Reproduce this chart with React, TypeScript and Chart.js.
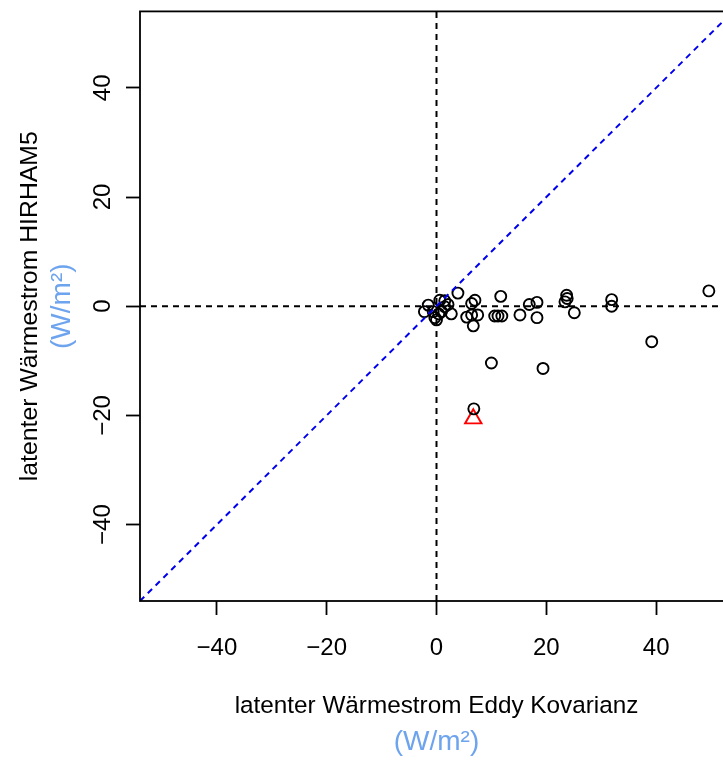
import React, { useEffect, useRef } from 'react';
import { Chart, registerables } from 'chart.js';

Chart.register(...registerables);

// Latent heat flux: Eddy covariance (x) vs HIRHAM5 (y), W/m^2
const eddyX = [
  -1.5, -2.2, -0.6, -0.3, 0.0, 0.6, 1.5, 1.5, 0.9, 2.7, 3.9, 2.1, 0.4,
  5.5, 6.4, 6.4, 7.0, 6.7, 7.5, 10.6, 11.2, 11.9, 11.7, 15.2, 16.9, 18.3,
  18.3, 23.7, 23.8, 23.4, 25.1, 31.9, 31.9, 39.2, 49.6, 19.4, 10.0, 6.8,
];
const hirhamY = [
  0.2, -1.0, -1.0, -2.1, -2.5, 1.1, 1.0, -0.1, -1.0, -1.4, 2.4, 0.3, -1.4,
  -2.0, -1.6, 0.5, 1.1, -3.6, -1.6, -1.8, -1.8, -1.8, 1.8, -1.6, 0.3, 0.7,
  -2.1, 2.0, 1.4, 0.8, -1.2, 1.2, 0.0, -6.5, 2.8, -11.4, -10.4, -18.8,
];
const outlierX = [6.7];
const outlierY = [-20.6];

const axisMin = -54;
const axisMax = 54;
const xTicks = [-40, -20, 0, 20, 40];
const yTicks = [-40, -20, 0, 20, 40];

const xTitle = 'latenter Wärmestrom Eddy Kovarianz';
const yTitle = 'latenter Wärmestrom HIRHAM5';
const unitLabel = '(W/m²)';

const FONT = "'Liberation Sans', Arial, Helvetica, sans-serif";
const UNIT_COLOR = 'rgb(110,164,238)';

const fmt = (v: number) => (v < 0 ? '\u2212' + Math.abs(v) : String(v));

const framePlugin = {
  id: 'frame',
  afterDraw(chart: any) {
    const { ctx, chartArea } = chart;
    const { left, top, right, bottom } = chartArea;
    ctx.save();
    ctx.strokeStyle = '#000';
    ctx.lineWidth = 1.8;
    ctx.strokeRect(left, top, right - left, bottom - top);
    ctx.restore();
  },
};

const dashed = (data: any[], color: string) =>
  ({
    data,
    showLine: true,
    borderColor: color,
    borderWidth: 2,
    borderDash: [6, 5],
    pointRadius: 0,
    order: 0,
  } as any);

export default function App() {
  const ref = useRef<HTMLCanvasElement | null>(null);

  useEffect(() => {
    if (!ref.current) return;
    const points = eddyX.map((x, i) => ({ x, y: hirhamY[i] }));
    const outliers = outlierX.map((x, i) => ({ x, y: outlierY[i] }));

    const tickGrid = {
      display: true,
      drawOnChartArea: false,
      drawTicks: true,
      tickLength: 14,
      tickColor: '#000',
      tickWidth: 1.8,
      color: '#000',
    };

    const chart = new Chart(ref.current, {
      type: 'scatter',
      data: {
        datasets: [
          dashed([{ x: axisMin, y: axisMin }, { x: axisMax, y: axisMax }], '#0000ee'),
          dashed([{ x: axisMin, y: 0 }, { x: axisMax, y: 0 }], '#000'),
          dashed([{ x: 0, y: axisMin }, { x: 0, y: axisMax }], '#000'),
          {
            label: 'stations',
            data: points,
            pointStyle: 'circle',
            pointRadius: 5.5,
            borderColor: '#000',
            borderWidth: 1.9,
            backgroundColor: 'rgba(0,0,0,0)',
            order: 1,
          } as any,
          {
            label: 'mean',
            data: outliers,
            pointStyle: 'triangle',
            pointRadius: 9.5,
            borderColor: '#ff0000',
            borderWidth: 1.9,
            backgroundColor: 'rgba(0,0,0,0)',
            order: 1,
          } as any,
        ],
      },
      options: {
        animation: false,
        responsive: false,
        devicePixelRatio: 1,
        layout: { padding: { top: 11, right: 12, left: 0, bottom: 0 } },
        plugins: {
          legend: { display: false },
          tooltip: { enabled: false },
          title: { display: false },
        },
        scales: {
          x: {
            type: 'linear',
            position: 'bottom',
            min: axisMin,
            max: axisMax,
            weight: 0,
            afterBuildTicks: (s: any) => {
              s.ticks = xTicks.map((v) => ({ value: v }));
            },
            afterFit: (s: any) => {
              s.height = 119.4;
              s.paddingLeft = 0;
              s.paddingRight = 0;
            },
            ticks: {
              color: '#000',
              font: { family: FONT, size: 24 },
              padding: 19,
              maxRotation: 0,
              minRotation: 0,
              callback: (v: any) => fmt(Number(v)),
            },
            grid: tickGrid,
            border: { display: false },
            title: {
              display: true,
              text: xTitle,
              color: '#000',
              font: { family: FONT, size: 24.3 },
              padding: { top: 0, bottom: 0 },
            },
          },
          y: {
            type: 'linear',
            position: 'left',
            min: axisMin,
            max: axisMax,
            weight: 0,
            afterBuildTicks: (s: any) => {
              s.ticks = yTicks.map((v) => ({ value: v }));
            },
            afterFit: (s: any) => {
              s.width = 95;
              s.paddingTop = 0;
              s.paddingBottom = 0;
            },
            ticks: {
              color: '#000',
              font: { family: FONT, size: 24 },
              padding: 2,
              minRotation: 90,
              maxRotation: 90,
              crossAlign: 'center',
              callback: (v: any) => fmt(Number(v)),
            },
            grid: tickGrid,
            border: { display: false },
            title: {
              display: true,
              text: unitLabel,
              color: UNIT_COLOR,
              font: { family: FONT, size: 28 },
              padding: { top: 0, bottom: 0 },
            },
          },
          xOuter: {
            type: 'linear',
            axis: 'x',
            position: 'bottom',
            min: axisMin,
            max: axisMax,
            weight: 1,
            afterFit: (s: any) => {
              s.height = 41.6;
              s.paddingLeft = 0;
              s.paddingRight = 0;
            },
            ticks: { display: false },
            grid: { display: false },
            border: { display: false },
            title: {
              display: true,
              text: unitLabel,
              color: UNIT_COLOR,
              font: { family: FONT, size: 28 },
              padding: { top: 0, bottom: 3.2 },
            },
          },
          yOuter: {
            type: 'linear',
            axis: 'y',
            position: 'left',
            min: axisMin,
            max: axisMax,
            weight: 1,
            afterFit: (s: any) => {
              s.width = 45;
              s.paddingTop = 0;
              s.paddingBottom = 0;
            },
            ticks: { display: false },
            grid: { display: false },
            border: { display: false },
            title: {
              display: true,
              text: yTitle,
              color: '#000',
              font: { family: FONT, size: 24.8 },
              padding: { top: 15, bottom: 0 },
            },
          },
        } as any,
      },
      plugins: [framePlugin],
    } as any);

    return () => chart.destroy();
  }, []);

  return (
    <div
      style={{
        position: 'fixed',
        left: 0,
        top: 0,
        width: 723,
        height: 762,
        overflow: 'hidden',
        background: '#fff',
      }}
    >
      <canvas ref={ref} width={745} height={762} style={{ display: 'block' }} />
    </div>
  );
}
